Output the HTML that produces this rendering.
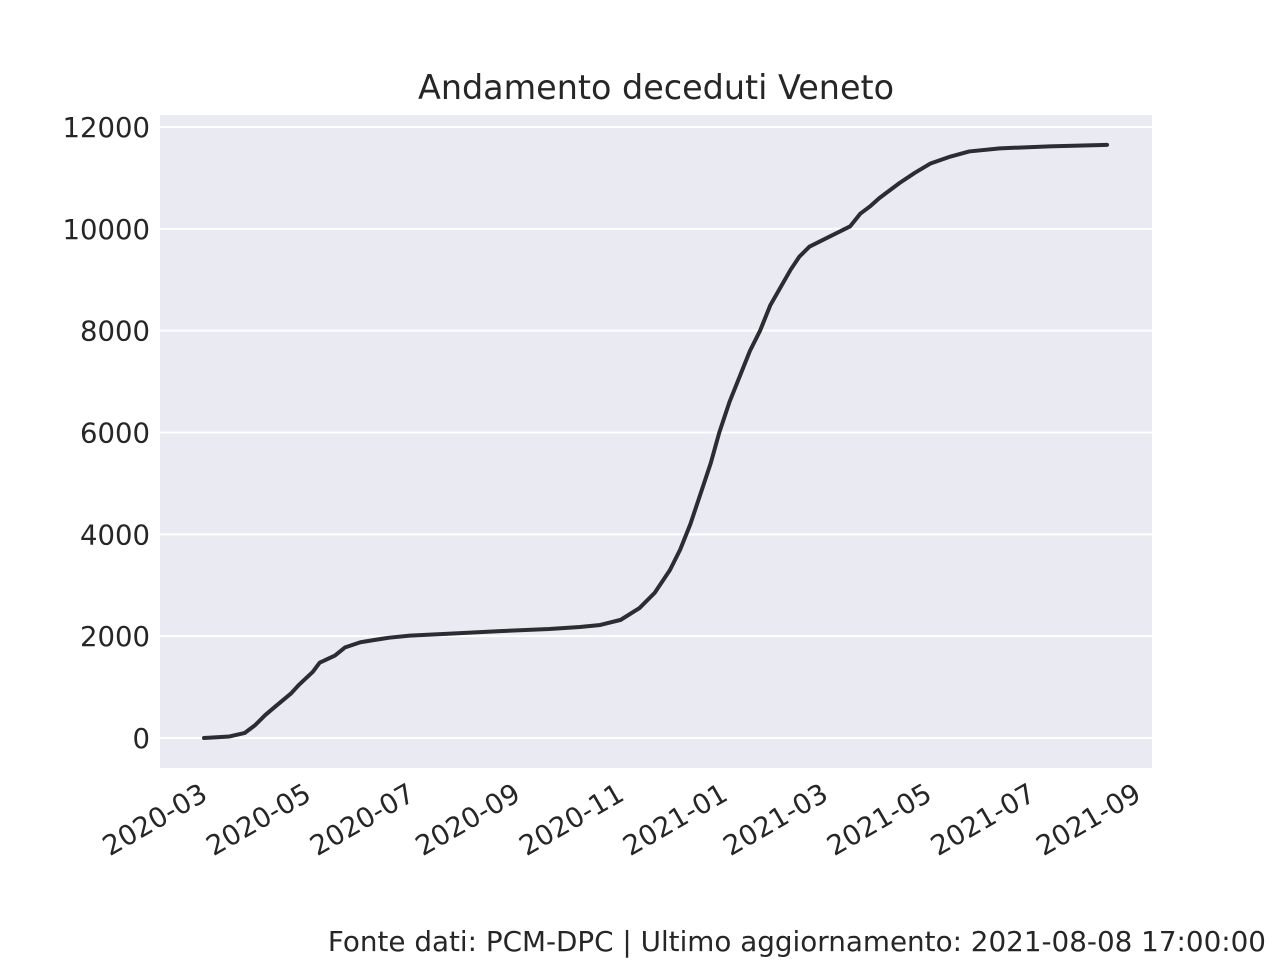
<!DOCTYPE html>
<html><head><meta charset="utf-8"><style>
body{margin:0;background:#fff;width:1280px;height:960px;overflow:hidden;font-family:"Liberation Sans","DejaVu Sans",sans-serif;}
svg text{font-family:"DejaVu Sans","Liberation Sans",sans-serif;fill:#262626;}
</style></head><body>
<svg id="chart" width="1280" height="960">
<text x="656" y="99" font-size="33.4" text-anchor="middle">Andamento deceduti Veneto</text>
<rect x="160" y="115" width="992" height="653" fill="#eaeaf2"/>
<g id="grid"></g><g id="yt"></g><g id="xt"></g><g id="line"></g>
<text x="1266" y="951" font-size="27.8" text-anchor="end">Fonte dati: PCM-DPC | Ultimo aggiornamento: 2021-08-08 17:00:00</text>
</svg>
<script>
const dates=["2020-02-24","2020-03-10","2020-03-19","2020-03-25","2020-03-31","2020-04-06","2020-04-15","2020-04-20","2020-04-28","2020-05-02","2020-05-11","2020-05-17","2020-05-26","2020-06-04","2020-06-12","2020-06-24","2020-07-18","2020-08-16","2020-09-14","2020-10-02","2020-10-14","2020-10-26","2020-11-06","2020-11-15","2020-11-24","2020-11-30","2020-12-06","2020-12-12","2020-12-18","2020-12-23","2020-12-29","2021-01-04","2021-01-10","2021-01-16","2021-01-22","2021-01-28","2021-02-03","2021-02-08","2021-02-14","2021-02-20","2021-03-01","2021-03-10","2021-03-16","2021-03-22","2021-03-27","2021-04-02","2021-04-08","2021-04-17","2021-04-26","2021-05-08","2021-05-19","2021-06-06","2021-07-05","2021-08-08"];
const deaths=[0,30,100,250,450,620,870,1050,1300,1480,1620,1780,1880,1930,1970,2010,2050,2100,2140,2180,2220,2320,2550,2850,3300,3700,4200,4800,5400,6000,6600,7100,7600,8000,8500,8850,9200,9450,9650,9750,9900,10050,10300,10450,10600,10750,10900,11100,11280,11420,11520,11580,11620,11650];
const yTicks=[0,2000,4000,6000,8000,10000,12000];
const xTicks=["2020-03","2020-05","2020-07","2020-09","2020-11","2021-01","2021-03","2021-05","2021-07","2021-09"];
const NS="http://www.w3.org/2000/svg";
const t0=Date.parse("2020-02-24"),DAY=86400000;
function xs(d){return 204+(Date.parse(d)-t0)/DAY*1.7006;}
function ys(v){return 738-v*0.050917;}
function mk(tag,attrs,parent){const e=document.createElementNS(NS,tag);for(const k in attrs)e.setAttribute(k,attrs[k]);document.getElementById(parent).appendChild(e);return e;}
yTicks.forEach(v=>{
 const l=mk('line',{x1:160,x2:1152,y1:ys(v),y2:ys(v),stroke:'#fff','stroke-width':2},'grid');
 
 
 const t=mk('text',{x:150,y:ys(v)+10,'font-size':27.5,'text-anchor':'end'},'yt');
 t.textContent=v;
 
 
});
xTicks.forEach(m=>{
 const x=xs(m+"-01")-5;
 const t=mk('text',{x:x,y:799,'font-size':27.5,'text-anchor':'end',transform:`rotate(-30 ${x} 799)`},'xt');
 t.textContent=m;
 
 
});
const p=mk('polyline',{points:dates.map((d,i)=>xs(d)+','+ys(deaths[i])).join(' '),fill:'none',stroke:'#2b2d33','stroke-width':4,'stroke-linejoin':'round','stroke-linecap':'round'},'line');


</script>
</body></html>
